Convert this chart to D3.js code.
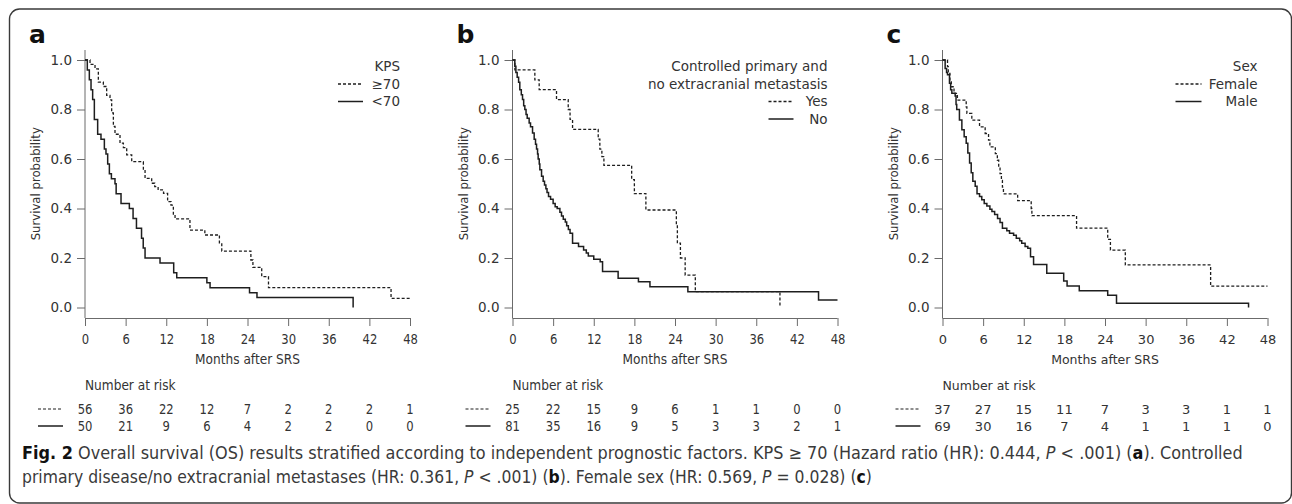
<!DOCTYPE html>
<html>
<head>
<meta charset="utf-8">
<script src="https://cdn.jsdelivr.net/npm/d3@7"></script>
<style>
  html, body { margin: 0; padding: 0; background: #fff; }
  svg { display: block; }
  text { font-family: "DejaVu Sans", sans-serif; }
</style>
</head>
<body>
<svg id="chart" width="1292" height="504"></svg>
<script>
// ---------------- DATA ----------------
const monthTicks = [0, 6, 12, 18, 24, 30, 36, 42, 48];
const survTicks = [0.0, 0.2, 0.4, 0.6, 0.8, 1.0];

// Panel a: KPS
const kpsHigh = [[0,1],[0.74,0.982],[1.48,0.964],[1.97,0.911],[2.71,0.893],[3.2,0.857],[3.69,0.839],[3.94,0.786],[4.19,0.732],[4.43,0.70],[5.17,0.664],[5.67,0.646],[6.16,0.617],[6.9,0.589],[8.62,0.556],[8.87,0.522],[9.85,0.502],[10.3,0.488],[10.8,0.475],[11.6,0.461],[12.2,0.428],[12.7,0.414],[13.05,0.374],[13.3,0.358],[15.5,0.313],[17.7,0.293],[19.85,0.257],[20.2,0.228],[24.5,0.192],[24.8,0.162],[26.1,0.125],[27.1,0.08],[45.2,0.037],[48,0.037]];
const kpsLow = [[0,1],[0.34,0.96],[0.64,0.92],[0.89,0.88],[1.13,0.84],[1.38,0.76],[1.87,0.70],[2.36,0.68],[2.86,0.64],[3.1,0.62],[3.35,0.58],[3.6,0.54],[3.9,0.52],[4.43,0.50],[4.6,0.46],[5.32,0.42],[6.55,0.40],[7.1,0.36],[7.6,0.32],[8.35,0.28],[8.6,0.24],[8.87,0.20],[11.08,0.18],[13.1,0.14],[13.55,0.12],[18.0,0.10],[18.47,0.08],[24.3,0.06],[25.4,0.04],[39.6,0.0]];
const riskKpsHigh = [56, 36, 22, 12, 7, 2, 2, 2, 1];
const riskKpsLow  = [50, 21, 9, 6, 4, 2, 2, 0, 0];

// Panel b: controlled primary and no extracranial metastasis
const ctrlYes = [[0,1],[0.35,0.96],[3.3,0.92],[3.94,0.88],[6.5,0.84],[8.23,0.80],[8.5,0.76],[8.87,0.72],[12.66,0.68],[12.9,0.64],[13.2,0.61],[13.5,0.574],[17.6,0.517],[18.0,0.46],[19.7,0.394],[24.2,0.33],[24.35,0.26],[24.8,0.20],[25.5,0.131],[27.0,0.064],[39.5,0.0]];
const ctrlNo = [[0,1],[0.34,0.975],[0.5,0.95],[0.69,0.93],[0.9,0.91],[1.08,0.88],[1.3,0.86],[1.48,0.84],[1.65,0.815],[1.82,0.80],[2.0,0.78],[2.17,0.765],[2.46,0.745],[2.66,0.73],[2.96,0.705],[3.2,0.68],[3.4,0.66],[3.55,0.64],[3.7,0.62],[3.79,0.60],[3.95,0.58],[4.04,0.557],[4.29,0.53],[4.53,0.51],[4.73,0.495],[4.93,0.48],[5.1,0.465],[5.32,0.448],[5.62,0.437],[6.0,0.42],[6.3,0.407],[6.6,0.40],[7.0,0.385],[7.24,0.37],[7.5,0.357],[7.8,0.345],[8.0,0.33],[8.25,0.315],[8.5,0.30],[8.87,0.26],[9.75,0.246],[10.5,0.232],[10.9,0.22],[11.2,0.208],[12.0,0.195],[12.95,0.185],[13.3,0.145],[15.6,0.118],[18.6,0.104],[20.3,0.084],[25.9,0.064],[45.2,0.030],[48,0.030]];
const riskCtrlYes = [25, 22, 15, 9, 6, 1, 1, 0, 0];
const riskCtrlNo  = [81, 35, 16, 9, 5, 3, 3, 2, 1];

// Panel c: sex
const sexFemale = [[0,1],[0.74,0.973],[0.85,0.946],[1.1,0.919],[1.3,0.892],[1.7,0.865],[2.2,0.838],[3.5,0.811],[3.6,0.784],[4.33,0.757],[5.47,0.73],[6.3,0.703],[6.8,0.676],[7.0,0.649],[7.8,0.622],[8.1,0.595],[8.3,0.568],[8.5,0.541],[8.7,0.514],[8.85,0.486],[9.0,0.459],[11.1,0.432],[13.1,0.40],[13.2,0.371],[19.8,0.321],[24.4,0.275],[24.8,0.232],[27.0,0.172],[39.6,0.086],[48,0.086]];
const sexMale = [[0,1],[0.39,0.966],[0.6,0.95],[0.74,0.94],[1.03,0.906],[1.2,0.88],[1.38,0.866],[1.87,0.855],[2.0,0.82],[2.1,0.80],[2.5,0.758],[2.86,0.718],[3.2,0.69],[3.5,0.664],[3.74,0.624],[4.0,0.584],[4.24,0.544],[4.48,0.51],[4.83,0.49],[5.1,0.46],[5.47,0.448],[5.8,0.435],[6.16,0.42],[6.55,0.41],[7.0,0.397],[7.3,0.388],[7.7,0.376],[8.13,0.36],[8.5,0.343],[8.85,0.32],[9.5,0.31],[9.9,0.30],[10.5,0.292],[10.9,0.28],[11.4,0.27],[11.7,0.26],[12.2,0.246],[12.6,0.239],[13.0,0.205],[13.45,0.174],[15.4,0.138],[17.9,0.107],[18.4,0.087],[20.2,0.068],[24.4,0.05],[25.7,0.017],[45.2,0.0]];
const riskSexFemale = [37, 27, 15, 11, 7, 3, 3, 1, 1];
const riskSexMale   = [69, 30, 16, 7, 4, 1, 1, 1, 0];

// ---------------- LAYOUT ----------------
const panels = [
  { letter: "a", x0: 85, cond: true,
    legendTitle: ["KPS"], labels: ["\u226570", "<70"], legendLine: [253, 278],
    series: [kpsHigh, kpsLow], risk: [riskKpsHigh, riskKpsLow] },
  { letter: "b", x0: 512.5, cond: true,
    legendTitle: ["Controlled primary and", "no extracranial metastasis"], labels: ["Yes", "No"], legendLine: [256, 281],
    series: [ctrlYes, ctrlNo], risk: [riskCtrlYes, riskCtrlNo] },
  { letter: "c", x0: 942.5, cond: false,
    legendTitle: ["Sex"], labels: ["Female", "Male"], legendLine: [233, 259],
    series: [sexFemale, sexMale], risk: [riskSexFemale, riskSexMale] }
];

const svg = d3.select("#chart");
const plotW = 325;
const yTop = 60, yBottom = 307.5, xAxisY = 318;
const axisColor = "#6b6b6b", textColor = "#333", curveColor = "#1e1e1e";
const dashes = ["3,2", null];
const condScale = 0.8;

// border
svg.append("rect").attr("x", 9.5).attr("y", 9).attr("width", 1282).attr("height", 494)
  .attr("rx", 10).attr("fill", "none").attr("stroke", "#3a3a3a").attr("stroke-width", 1.4);

const y = d3.scaleLinear().domain([0, 1]).range([yBottom, yTop]);

panels.forEach(p => {
  const x = d3.scaleLinear().domain([0, 48]).range([p.x0, p.x0 + plotW]);
  const g = svg.append("g");
  const sx = p.cond ? condScale : 1;
  const tickSize = p.cond ? 14.5 : 13;
  const labSize = p.cond ? 14.5 : 12.5;
  const labScale = p.cond ? 0.84 : 1;

  // panel letter
  g.append("text").attr("x", p.x0 - 56).attr("y", 43)
    .attr("font-family", "Liberation Sans, Arial, sans-serif").attr("font-weight", "bold")
    .attr("font-size", 25).attr("fill", "#111").text(p.letter);

  // y axis
  const yAxis = d3.axisLeft(y).tickValues(survTicks).tickFormat(d3.format(".1f")).tickSize(8).tickPadding(5);
  const ya = g.append("g").attr("transform", `translate(${p.x0},0)`).call(yAxis);
  ya.select(".domain").remove();
  ya.append("line").attr("x1", 0).attr("x2", 0).attr("y1", 50).attr("y2", xAxisY).attr("stroke", axisColor);
  ya.selectAll(".tick line").attr("stroke", axisColor);
  ya.selectAll(".tick text").attr("font-family", "DejaVu Sans").attr("font-size", 13.5).attr("fill", textColor);

  // x axis
  const xAxis = d3.axisBottom(x).tickValues(monthTicks).tickFormat(d3.format("d")).tickSize(8).tickPadding(14);
  const xa = g.append("g").attr("transform", `translate(0,${xAxisY})`).call(xAxis);
  xa.select(".domain").attr("stroke", axisColor).attr("d", `M${p.x0},0.5H${p.x0 + plotW}`);
  xa.selectAll(".tick line").attr("stroke", axisColor);
  xa.selectAll(".tick text").attr("font-family", "DejaVu Sans").attr("font-size", tickSize).attr("fill", textColor)
    .attr("dy", "0.3em").attr("transform", `scale(${sx},1)`);

  // axis titles
  g.append("text").attr("font-size", 11.7).attr("fill", textColor)
    .attr("text-anchor", "middle")
    .attr("transform", `translate(${p.x0 - 45},${(yTop + yBottom) / 2}) rotate(-90)`)
    .text("Survival probability");
  g.append("text").attr("font-size", labSize).attr("fill", textColor)
    .attr("text-anchor", "middle")
    .attr("transform", `translate(${p.x0 + plotW / 2},364) scale(${labScale},1)`)
    .text("Months after SRS");

  // curves
  const line = d3.line().x(d => x(d[0])).y(d => y(d[1])).curve(d3.curveStepAfter);
  p.series.forEach((s, i) => {
    g.append("path").datum(s).attr("d", line).attr("fill", "none")
      .attr("stroke", curveColor).attr("stroke-width", i === 0 ? 1.3 : 1.5)
      .attr("stroke-dasharray", dashes[i]);
  });

  // legend
  const rx = p.x0 + 315;
  const nT = p.legendTitle.length;
  p.legendTitle.forEach((t, i) => {
    g.append("text").attr("font-size", 13.5).attr("fill", textColor)
      .attr("text-anchor", "end").attr("x", rx).attr("y", 71 + i * 17.5).text(t);
  });
  p.labels.forEach((t, i) => {
    const by = 71 + (nT + i) * 17.5;
    g.append("text").attr("font-size", 13.5).attr("fill", textColor)
      .attr("text-anchor", "end").attr("x", rx).attr("y", by).text(t);
    g.append("line").attr("x1", p.x0 + p.legendLine[0]).attr("x2", p.x0 + p.legendLine[1])
      .attr("y1", by - 4.5).attr("y2", by - 4.5)
      .attr("stroke", curveColor).attr("stroke-width", i === 0 ? 1.3 : 1.5)
      .attr("stroke-dasharray", dashes[i]);
  });

  // number at risk
  g.append("text").attr("font-size", labSize).attr("fill", textColor)
    .attr("transform", `translate(${p.x0},390) scale(${labScale},1)`).text("Number at risk");
  p.risk.forEach((r, i) => {
    const by = 414 + i * 17;
    g.append("line").attr("x1", p.x0 - 47).attr("x2", p.x0 - 22)
      .attr("y1", by - 5).attr("y2", by - 5)
      .attr("stroke", curveColor).attr("stroke-width", i === 0 ? 1.2 : 1.5)
      .attr("stroke-dasharray", dashes[i]);
    g.selectAll(null).data(r).enter().append("text")
      .attr("font-size", tickSize).attr("fill", textColor)
      .attr("text-anchor", "middle")
      .attr("transform", (d, j) => `translate(${x(monthTicks[j])},${by}) scale(${sx},1)`)
      .text(d => d);
  });
});

// caption: natural layout, then horizontally scaled to the reference line widths
function captionLine(parts, baseY, targetW) {
  const t = svg.append("text").attr("font-size", 17).attr("fill", "#3a3a3a").attr("x", 0).attr("y", 0);
  parts.forEach(([s, style]) => {
    const ts = t.append("tspan").text(s);
    if (style === "b") ts.attr("font-weight", "bold").attr("fill", "#111");
    if (style === "i") ts.attr("font-style", "italic");
  });
  const w = t.node().getComputedTextLength();
  t.attr("transform", `translate(22,${baseY}) scale(${targetW / w},1)`);
}
captionLine([
  ["Fig. 2", "b"],
  [" Overall survival (OS) results stratified according to independent prognostic factors. KPS \u2265 70 (Hazard ratio (HR): 0.444, "],
  ["P", "i"], [" < .001) ("], ["a", "b"], ["). Controlled"]
], 459, 1221);
captionLine([
  ["primary disease/no extracranial metastases (HR: 0.361, "], ["P", "i"], [" < .001) ("], ["b", "b"],
  ["). Female sex (HR: 0.569, "], ["P", "i"], [" = 0.028) ("], ["c", "b"], [")"]
], 483, 850);
</script>
</body>
</html>
